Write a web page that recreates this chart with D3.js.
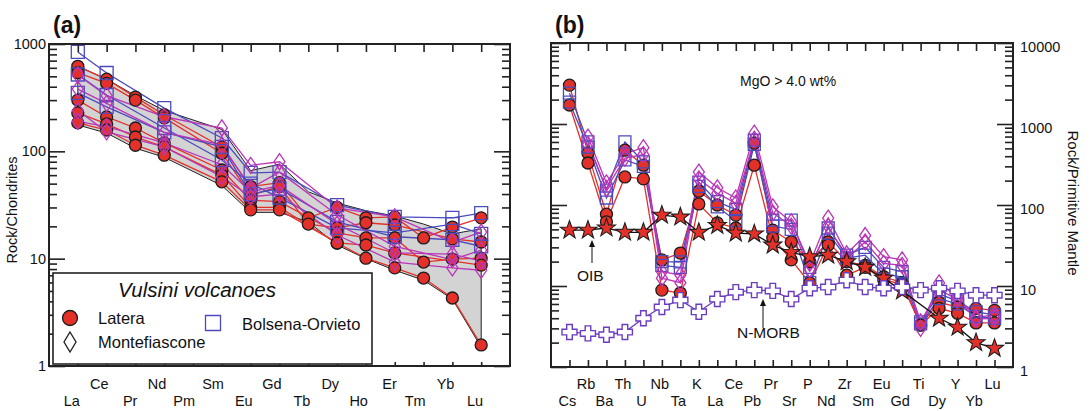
<!DOCTYPE html>
<html>
<head>
<meta charset="utf-8">
<script src="https://cdn.jsdelivr.net/npm/d3@7"></script>
<style>
body { margin: 0; background: #fff; }
svg text { font-family: "Liberation Sans", Arial, Helvetica, sans-serif; fill: #111; }
</style>
</head>
<body>
<svg id="chart" width="1090" height="411"></svg>
<script>
// ---- panel (a): chondrite-normalised REE ----
const reeLabels = ['La','Ce','Pr','Nd','Pm','Sm','Eu','Gd','Tb','Dy','Ho','Er','Tm','Yb','Lu']

const lateraREE = [
  [620, 470, 320, 218, null, 110, 47, 51, 24, 30, 24, 24.5, 15.6, 19.7, 24],
  [540, 430, 300, 205, null, 96, 39, 47, 21, 19.4, 21.6, 20.6, null, 15.3, 14.3],
  [300, 209, 165, 120, null, 67, 35, 34, null, 17.4, 15.6, 15.6, 9.3, 9.9, 10.1],
  [228, 180, 136, 110, null, 60, 30, 30, null, 14, 13.4, 11.3, null, null, 8.7],
  [184, 158, 114, 92, null, 52, 28.5, 28.5, null, 14, 10.1, 8.2, 6.6, 4.3, 1.57]
]
const bolsenaREE = [
  [844, 537, null, 253, null, 133, 63, 64, null, 31.6, null, 24.5, null, 24, 26.6],
  [520, 335, null, 165, null, 83, 50, 37, null, 19.4, null, 17.4, null, 21, 17],
  [350, 260, null, 150, null, 110, 40, 45, null, 22, null, 16, null, 15, 13]
]
const montefiasconeREE = [
  [515, 330, null, 210, null, 165, 74, 80, null, 29.7, null, 24.5, null, 14.3, 17.7],
  [380, 280, null, 150, null, 115, 45.5, 64, null, 25.5, null, 13, null, 9.8, 12],
  [240, 152, null, 110, null, 58, 37.7, 40, null, 16.6, null, 9.3, null, 8.2, 7.8],
  [190, 170, null, 120, null, 75, 42, 48, null, 21, null, 11.3, null, 11, 9.5]
]
const fieldUpper = [620, 470, 330, 240, null, 160, 66, 76, 42, 33, 28, 25, 21, 17, 19]
const fieldLower = [176, 148, 107, 88, null, 48, 27, 27, 22, 13.4, 10, 7.8, 6.3, 4.2, 1.5]

// ---- panel (b): primitive-mantle-normalised ----
const pmLabels = ['Cs','Rb','Ba','Th','U','Nb','Ta','K','La','Ce','Pb','Pr','Sr','P','Nd','Zr','Sm','Eu','Gd','Ti','Dy','Y','Yb','Lu']

const lateraPM = [
  [3020, 437, 77, 475, 310, 21, 25.5, 148, 100, 75, 580, 49, 35, 20, 35, 20, 18, 13, 11, 3.3, 6.3, 5.5, 5.3, 5.0],
  [1717, 330, 62, 222, 210, 8.9, 8.2, 103, 60, 52, 310, 39, 21, 10.9, 32, 13.6, 17, 12, 10.5, 3.3, 5.3, 4.6, 3.5, 3.5]
]
const bolsenaPM = [
  [2400, 600, 153, 600, 340, 20, 19.8, 192, 110, 88, 630, 65, 65, 17, 52, 24, 30, 17, 15, 3.6, 8, 6.5, 4.8, 4.4],
  [1860, 520, 122, 360, 300, 18, 17, 170, 95, 64, 560, 55, 50, 11, 45, 22, 24, 14, 13, 3.4, 7, 6, 4.2, 4.0]
]
const montefiasconePM = [
  [null, 690, 187, 430, 510, 15, 13.7, 255, 163, 122, 770, 95, 62, 19, 69, 25, 42, 23, 21, 3.0, 10.9, 7.3, 4.1, 4.4],
  [null, 560, 160, 380, 420, 12.5, 11, 210, 140, 105, 650, 80, 55, 16, 55, 22, 35, 19, 18, 3.6, 9, 6.8, 3.9, 4.0]
]
const oib = [49, 49, 52, 46, 46, 75, 71, 46, 56, 45, 44, 32, 26, 23, 24, 20, 17, 12.5, 8.7, null, 4.0, 3.1, 2.0, 1.7]
const nmorb = [2.7, 2.6, 2.5, 2.7, 4.0, 5.5, 6.7, 4.8, 6.9, 8.4, 8.9, 8.7, 6.9, 9.4, 9.7, 11.8, 9.7, 9.4, 9.7, 8.9, 9.4, 8.7, 7.7, 7.7]

const red = '#e3312a', blue = '#4b4bbd', magenta = '#bb35b8', purple = '#6a3cc0', ink = '#1c1c1c'

const svg = d3.select('#chart')

const xa = d3.scaleLinear().domain([-1, 15]).range([49, 510])
const ya = d3.scaleLog().domain([1, 1000]).range([366, 44])
const xb = d3.scaleLinear().domain([-1, 24]).range([551, 1013])
const yb = d3.scaleLog().domain([1, 10000]).range([367, 43])

const pts = row => row.map((v, i) => [i, v]).filter(d => d[1] != null)

// marker paths
const diamond = (w, h) => `M0,${-h/2}L${w/2},0L0,${h/2}L${-w/2},0Z`
const square = s => `M${-s/2},${-s/2}h${s}v${s}h${-s}Z`
const star = (R, r) => d3.range(10).map(k => {
  const a = -Math.PI / 2 + k * Math.PI / 5, rr = k % 2 ? r : R
  return (k ? 'L' : 'M') + (rr * Math.cos(a)).toFixed(2) + ',' + (rr * Math.sin(a)).toFixed(2)
}).join('') + 'Z'
const plus = (L, a) => `M${-a},${-L}H${a}V${-a}H${L}V${a}H${a}V${L}H${-a}V${a}H${-L}V${-a}H${-a}Z`

function frame(x, y, n, bottomTick, labelSide) {
  const g = svg.append('g').attr('color', '#222')
  const [x0, x1] = x.range(), [y0, y1] = y.range()
  const k1 = Math.round(Math.log10(y.domain()[1]))
  const majors = d3.range(0, k1 + 1).map(k => 10 ** k)
  const minors = []
  d3.range(0, k1).forEach(k => d3.range(2, 10).forEach(m => minors.push(m * 10 ** k)))

  const put = (axis, tx, ty) => g.append('g')
    .attr('transform', `translate(${tx},${ty})`)
    .call(axis.tickFormat('').tickSizeOuter(0))
    .call(s => s.select('.domain').remove())
    .call(s => s.selectAll('line').attr('stroke-width', 1.6))

  put(d3.axisLeft(y).tickValues(majors).tickSizeInner(-16), x0, 0)
  put(d3.axisLeft(y).tickValues(minors).tickSizeInner(-8), x0, 0)
  put(d3.axisRight(y).tickValues(majors).tickSizeInner(-16), x1, 0)
  put(d3.axisRight(y).tickValues(minors).tickSizeInner(-8), x1, 0)
  put(d3.axisTop(x).tickValues(d3.range(n)).tickSizeInner(-8), 0, y1)
  put(d3.axisBottom(x).tickValues(d3.range(n)).tickSizeInner(-bottomTick), 0, y0)

  g.append('rect')
    .attr('x', x0).attr('y', y1)
    .attr('width', x1 - x0).attr('height', y0 - y1)
    .attr('fill', 'none').attr('stroke', '#222').attr('stroke-width', 2)

  if (labelSide == 'left') {
    g.selectAll('.ylab').data(majors).enter().append('text')
      .attr('x', x0 - 3).attr('y', d => y(d) + 5)
      .attr('text-anchor', 'end').attr('font-size', 14.5)
      .text(d => d)
  } else {
    g.selectAll('.ylab').data(majors).enter().append('text')
      .attr('x', x1 + 7).attr('y', d => y(d) + 9)
      .attr('text-anchor', 'start').attr('font-size', 14.5)
      .text(d => d)
  }
}

function drawSeries(x, y, rows, colour) {
  const line = d3.line().x(d => x(d[0])).y(d => y(d[1]))
  const g = svg.append('g')
  rows.forEach(r => {
    g.append('path').attr('d', line(pts(r)))
      .attr('fill', 'none').attr('stroke', colour).attr('stroke-width', 1.3)
  })
  return g
}

function drawMarkers(x, y, rows, d, fill, stroke, sw) {
  const g = svg.append('g')
  rows.forEach(r => {
    g.selectAll(null).data(pts(r)).enter().append('path')
      .attr('transform', p => `translate(${x(p[0])},${y(p[1])})`)
      .attr('d', d)
      .attr('fill', fill).attr('stroke', stroke).attr('stroke-width', sw)
  })
}

// ================= panel (a) =================
const field = pts(fieldUpper).concat(pts(fieldLower).reverse())
svg.append('path')
  .attr('d', d3.line().x(d => xa(d[0])).y(d => ya(d[1]))(field) + 'Z')
  .attr('fill', '#d3d3d3').attr('stroke', '#222').attr('stroke-width', 1)

drawSeries(xa, ya, lateraREE, red)
drawSeries(xa, ya, bolsenaREE, blue)
drawSeries(xa, ya, montefiasconeREE, magenta)
drawMarkers(xa, ya, lateraREE, d3.symbol(d3.symbolCircle, Math.PI * 36)(), red, ink, 1.3)
drawMarkers(xa, ya, bolsenaREE, square(13), 'none', blue, 1.3)
drawMarkers(xa, ya, montefiasconeREE, diamond(11, 16), 'none', magenta, 1.3)

frame(xa, ya, reeLabels.length, 4, 'left')

svg.append('g').selectAll('text').data(reeLabels).enter().append('text')
  .attr('x', (d, i) => xa(i) + 2)
  .attr('y', (d, i) => i % 2 ? 389 : 406)
  .attr('text-anchor', 'end').attr('font-size', 14.5)
  .text(d => d)

svg.append('text').attr('x', 53).attr('y', 33)
  .attr('font-size', 23).attr('font-weight', 'bold').text('(a)')

svg.append('text')
  .attr('transform', 'translate(17,210) rotate(-90)')
  .attr('text-anchor', 'middle').attr('font-size', 14.5)
  .text('Rock/Chondrites')

// legend
const leg = svg.append('g')
leg.append('rect').attr('x', 53).attr('y', 273).attr('width', 319).attr('height', 91)
  .attr('fill', '#fff').attr('stroke', '#222').attr('stroke-width', 1.6)
leg.append('text').attr('x', 118).attr('y', 297)
  .attr('font-size', 20.5).attr('font-style', 'italic').text('Vulsini volcanoes')
leg.append('path').attr('transform', 'translate(70,318)')
  .attr('d', d3.symbol(d3.symbolCircle, Math.PI * 56)())
  .attr('fill', red).attr('stroke', ink).attr('stroke-width', 1.3)
leg.append('text').attr('x', 98).attr('y', 324).attr('font-size', 16.5).text('Latera')
leg.append('path').attr('transform', 'translate(70,342)')
  .attr('d', diamond(12, 20)).attr('fill', 'none').attr('stroke', ink).attr('stroke-width', 1.3)
leg.append('text').attr('x', 98).attr('y', 348).attr('font-size', 16.5).text('Montefiascone')
leg.append('path').attr('transform', 'translate(213,323)')
  .attr('d', square(15)).attr('fill', 'none').attr('stroke', blue).attr('stroke-width', 1.3)
leg.append('text').attr('x', 242).attr('y', 330).attr('font-size', 16.5).text('Bolsena-Orvieto')

// ================= panel (b) =================
drawSeries(xb, yb, lateraPM, red)
drawSeries(xb, yb, bolsenaPM, blue)
drawSeries(xb, yb, montefiasconePM, magenta)
drawMarkers(xb, yb, lateraPM, d3.symbol(d3.symbolCircle, Math.PI * 36)(), red, ink, 1.3)
drawMarkers(xb, yb, bolsenaPM, square(12), 'none', blue, 1.3)
drawMarkers(xb, yb, montefiasconePM, diamond(11, 16), 'none', magenta, 1.3)

drawSeries(xb, yb, [oib], '#111')
drawMarkers(xb, yb, [oib], star(9.5, 3.8), red, ink, 1.1)
drawSeries(xb, yb, [nmorb], purple)
drawMarkers(xb, yb, [nmorb], plus(7.5, 2.8), '#fff', purple, 1.4)

frame(xb, yb, pmLabels.length, 7, 'right')

svg.append('g').selectAll('text').data(pmLabels).enter().append('text')
  .attr('x', (d, i) => xb(i) - 2)
  .attr('y', (d, i) => i % 2 ? 389 : 406)
  .attr('text-anchor', 'middle').attr('font-size', 14.5)
  .text(d => d)

svg.append('text').attr('x', 555).attr('y', 33)
  .attr('font-size', 23).attr('font-weight', 'bold').text('(b)')

svg.append('text')
  .attr('transform', 'translate(1068,203) rotate(90)')
  .attr('text-anchor', 'middle').attr('font-size', 15)
  .text('Rock/Primitive Mantle')

svg.append('text').attr('x', 740).attr('y', 86).attr('font-size', 14).text('MgO > 4.0 wt%')

// annotations
function arrow(x, yFrom, yTo) {
  svg.append('line').attr('x1', x).attr('x2', x).attr('y1', yFrom).attr('y2', yTo + 5)
    .attr('stroke', '#111').attr('stroke-width', 1)
  svg.append('path').attr('d', `M${x},${yTo}L${x - 3},${yTo + 7}L${x + 3},${yTo + 7}Z`).attr('fill', '#111')
}
arrow(592, 263, 240)
svg.append('text').attr('x', 577).attr('y', 281).attr('font-size', 15.5).text('OIB')
arrow(763, 328, 299)
svg.append('text').attr('x', 737).attr('y', 338).attr('font-size', 15.5).text('N-MORB')
</script>
</body>
</html>
